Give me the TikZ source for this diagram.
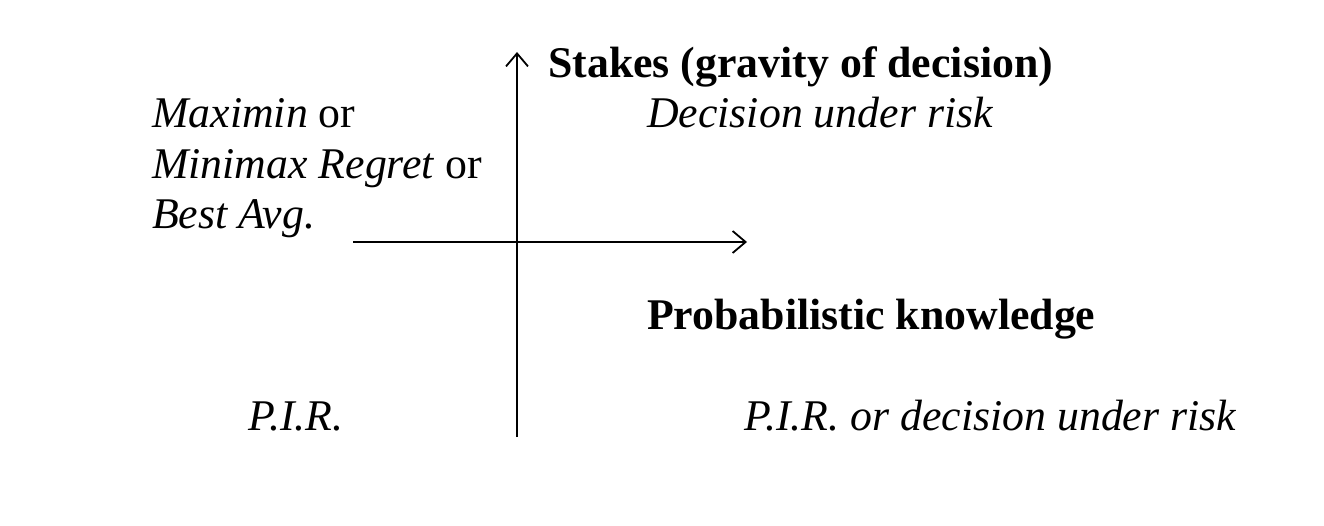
\documentclass[tikz,border=0pt]{standalone}
\usepackage{fontspec}
\setmainfont{Liberation Serif}
\usetikzlibrary{arrows.meta}
\tikzset{
  lbl/.style={anchor=base west, inner sep=0pt, font=\fontsize{43.8}{50.5}\selectfont},
  axis/.style={line width=2pt, -{Straight Barb[length=13pt,width=22pt,line width=1.8pt]}}
}
\begin{document}
\begin{tikzpicture}[x=1pt,y=-1pt]
\useasboundingbox (0,0) rectangle (1324,526);
\coordinate (vb) at (517,437);
\coordinate (vt) at (517,52);
\coordinate (hl) at (353,242);
\coordinate (hr) at (747,242);
\draw[axis] (vb) -- (vt);
\draw[axis] (hl) -- (hr);
\node[lbl] (stakes) at (548,78) {\textbf{Stakes (gravity of decision)}};
\node[lbl] (dur) at (647,128) {\textit{Decision under risk}};
\node[lbl] (max) at (152,128) {\textit{Maximin} or};
\node[lbl] (mmr) at (152,179) {\textit{Minimax Regret} or};
\node[lbl] (avg) at (152,229) {\textit{Best Avg.}};
\node[lbl] (prob) at (647,330) {\textbf{Probabilistic knowledge}};
\node[lbl] (pir) at (248,430) {\textit{P.I.R.}};
\node[lbl] (pirdur) at (744,430) {\textit{P.I.R. or decision under risk}};
\end{tikzpicture}
\end{document}
